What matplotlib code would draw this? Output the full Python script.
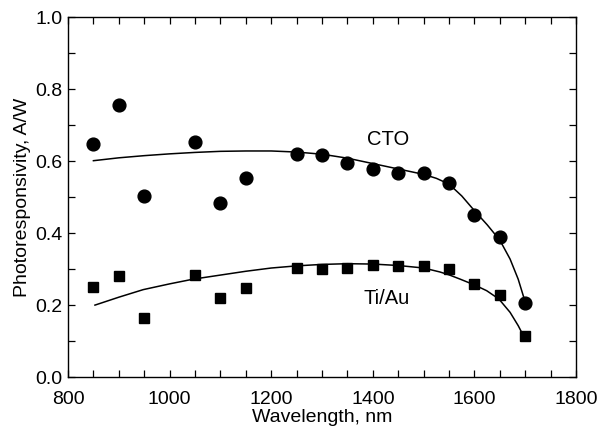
import matplotlib
matplotlib.use("Agg")
import matplotlib.pyplot as plt
from matplotlib.ticker import MultipleLocator, FormatStrFormatter

plt.rcParams['font.family'] = ['Liberation Sans', 'DejaVu Sans']

# Measured data
wl = [850, 900, 950, 1050, 1100, 1150, 1250, 1300, 1350, 1400, 1450, 1500, 1550, 1600, 1650, 1700]
cto = [0.647, 0.756, 0.504, 0.654, 0.483, 0.552, 0.619, 0.616, 0.594, 0.578,
       0.566, 0.566, 0.538, 0.451, 0.388, 0.206]
tiau = [0.249, 0.281, 0.163, 0.283, 0.219, 0.247, 0.303, 0.301, 0.304, 0.312,
        0.308, 0.309, 0.299, 0.260, 0.229, 0.113]

# Fit curves
cto_fit_x = [850, 900, 950, 1000, 1050, 1100, 1150, 1200, 1250, 1300, 1350, 1400,
             1450, 1500, 1525, 1550, 1575, 1600, 1625, 1650, 1670, 1686, 1696, 1700]
cto_fit_y = [0.601, 0.609, 0.615, 0.620, 0.624, 0.627, 0.628, 0.628, 0.625, 0.619,
             0.608, 0.593, 0.578, 0.563, 0.552, 0.536, 0.503, 0.462, 0.423, 0.380,
             0.328, 0.272, 0.226, 0.205]
tiau_fit_x = [853, 900, 948, 1000, 1046, 1098, 1150, 1200, 1250, 1300, 1350, 1400,
              1450, 1500, 1532, 1550, 1572, 1600, 1624, 1648, 1670, 1686, 1693]
tiau_fit_y = [0.200, 0.222, 0.243, 0.259, 0.272, 0.283, 0.294, 0.303, 0.309, 0.313,
              0.315, 0.314, 0.310, 0.303, 0.292, 0.284, 0.272, 0.256, 0.240, 0.217,
              0.180, 0.143, 0.124]

fig = plt.figure(figsize=(6.02, 4.36), dpi=100)
ax = fig.add_axes([0.113, 0.135, 0.844, 0.826])

ax.plot(cto_fit_x, cto_fit_y, color='black', lw=1.1)
ax.plot(tiau_fit_x, tiau_fit_y, color='black', lw=1.1)
ax.plot(wl, cto, 'o', color='black', ms=9.2, mec='black')
ax.plot(wl, tiau, 's', color='black', ms=7.8, mec='black')

ax.text(1430, 0.661, 'CTO', fontsize=14.5, ha='center', va='center')
ax.text(1428, 0.217, 'Ti/Au', fontsize=14.5, ha='center', va='center')

ax.set_xlim(800, 1800)
ax.set_ylim(0.0, 1.0)
ax.xaxis.set_major_locator(MultipleLocator(200))
ax.xaxis.set_minor_locator(MultipleLocator(50))
ax.yaxis.set_major_locator(MultipleLocator(0.2))
ax.yaxis.set_minor_locator(MultipleLocator(0.1))
ax.yaxis.set_major_formatter(FormatStrFormatter('%.1f'))

for which in ('major', 'minor'):
    ax.tick_params(axis='both', which=which, direction='in', length=5, width=0.9,
                   top=True, right=True, labelsize=14)
ax.tick_params(axis='x', which='major', pad=10)
ax.tick_params(axis='y', which='major', pad=4)

for s in ax.spines.values():
    s.set_linewidth(1.0)

ax.set_xlabel('Wavelength, nm', fontsize=14, labelpad=1)
ax.set_ylabel('Photoresponsivity, A/W', fontsize=14, labelpad=3)

fig.savefig('out.png', dpi=100)
